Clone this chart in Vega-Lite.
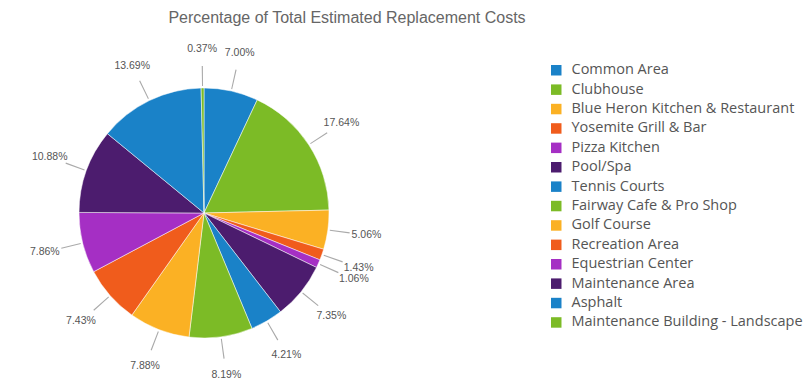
{
  "$schema": "https://vega.github.io/schema/vega-lite/v6.json",
  "width": 408,
  "height": 338,
  "autosize": "none",
  "padding": {"left": 0, "top": 44, "right": 401, "bottom": 0},
  "background": "white",
  "title": {
    "text": "Percentage of Total Estimated Replacement Costs",
    "font": "Liberation Sans",
    "fontSize": 16,
    "fontWeight": "normal",
    "color": "#666666",
    "anchor": "middle",
    "dx": 143,
    "offset": 18
  },
  "config": {"view": {"stroke": null}},
  "data": {
    "values": [
      {"name": "Common Area", "pct": 7.00, "idx": 1},
      {"name": "Clubhouse", "pct": 17.64, "idx": 2},
      {"name": "Blue Heron Kitchen & Restaurant", "pct": 5.06, "idx": 3},
      {"name": "Yosemite Grill & Bar", "pct": 1.43, "idx": 4},
      {"name": "Pizza Kitchen", "pct": 1.06, "idx": 5},
      {"name": "Pool/Spa", "pct": 7.35, "idx": 6},
      {"name": "Tennis Courts", "pct": 4.21, "idx": 7},
      {"name": "Fairway Cafe & Pro Shop", "pct": 8.19, "idx": 8},
      {"name": "Golf Course", "pct": 7.88, "idx": 9},
      {"name": "Recreation Area", "pct": 7.43, "idx": 10},
      {"name": "Equestrian Center", "pct": 7.86, "idx": 11},
      {"name": "Maintenance Area", "pct": 10.88, "idx": 12},
      {"name": "Asphalt", "pct": 13.69, "idx": 13},
      {"name": "Maintenance Building - Landscape", "pct": 0.37, "idx": 14}
    ]
  },
  "transform": [
    {"joinaggregate": [{"op": "sum", "field": "pct", "as": "total"}]},
    {"window": [{"op": "sum", "field": "pct", "as": "cum"}], "sort": [{"field": "idx"}], "frame": [null, 0]},
    {"calculate": "2 * PI * (datum.cum - datum.pct / 2) / datum.total", "as": "mid"},
    {"calculate": "datum.mid - 0.004", "as": "midA"},
    {"calculate": "datum.mid + 0.004", "as": "midB"},
    {"calculate": "format(datum.pct, '.2f') + '%'", "as": "label"}
  ],
  "layer": [
    {
      "mark": {"type": "arc", "outerRadius": 125, "stroke": "white", "strokeWidth": 0.5},
      "encoding": {
        "theta": {"field": "pct", "type": "quantitative", "stack": true},
        "order": {"field": "idx", "type": "quantitative"},
        "color": {
          "field": "name",
          "type": "nominal",
          "sort": {"field": "idx"},
          "scale": {
            "domain": ["Common Area", "Clubhouse", "Blue Heron Kitchen & Restaurant", "Yosemite Grill & Bar", "Pizza Kitchen", "Pool/Spa", "Tennis Courts", "Fairway Cafe & Pro Shop", "Golf Course", "Recreation Area", "Equestrian Center", "Maintenance Area", "Asphalt", "Maintenance Building - Landscape"],
            "range": ["#1a82c8", "#7cbb26", "#fbb124", "#f05c1c", "#a52fc4", "#4c1c6e", "#1a82c8", "#7cbb26", "#fbb124", "#f05c1c", "#a52fc4", "#4c1c6e", "#1a82c8", "#7cbb26"]
          },
          "legend": {
            "title": null,
            "orient": "none",
            "legendX": 549,
            "legendY": 19,
            "symbolType": "square",
            "symbolSize": 110,
            "symbolStrokeWidth": 0,
            "labelFont": "Open Sans",
            "labelFontSize": 14.5,
            "labelColor": "#555555",
            "labelOffset": 8,
            "labelLimit": 300,
            "rowPadding": 4.4
          }
        }
      }
    },
    {
      "mark": {"type": "arc", "innerRadius": 127, "outerRadius": 147, "color": "#aaaaaa"},
      "encoding": {
        "theta": {"field": "midA", "type": "quantitative", "scale": null},
        "theta2": {"field": "midB"}
      }
    },
    {
      "mark": {"type": "text", "radius": 164, "font": "Liberation Sans", "fontSize": 10.5, "color": "#555555"},
      "encoding": {
        "theta": {"field": "mid", "type": "quantitative", "scale": null},
        "text": {"field": "label"}
      }
    }
  ]
}
